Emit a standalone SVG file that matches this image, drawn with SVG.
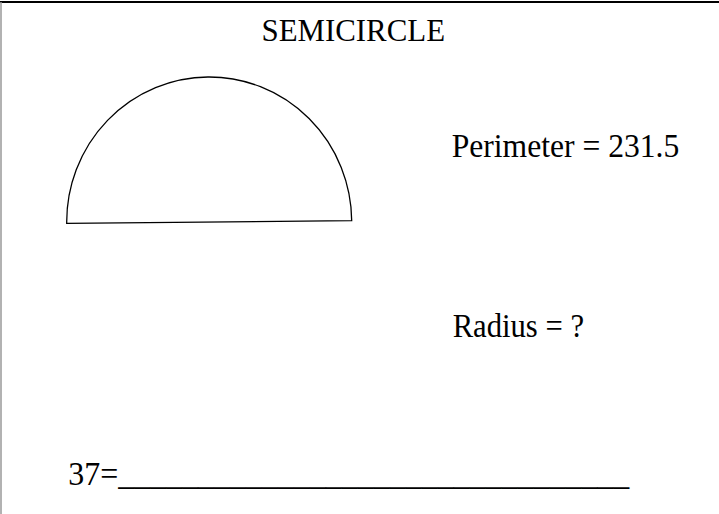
<svg xmlns="http://www.w3.org/2000/svg" width="719" height="514" viewBox="0 0 719 514">
  <style>
    text { font-family: "Liberation Serif", "Times New Roman", serif; fill: #000; font-size: 34px; }
    .title { font-size: 31px; }
    .shape { fill: none; stroke: #000; stroke-width: 1.3; }
  </style>
  <rect width="719" height="514" fill="#fff"/>
  <g id="frame">
    <line x1="0" y1="2" x2="719" y2="2" stroke="#000" stroke-width="2"/>
    <line x1="1" y1="2" x2="1" y2="514" stroke="#999" stroke-width="1.5"/>
  </g>
  <g id="title"><text class="title" x="261.5" y="41" textLength="183.5" lengthAdjust="spacingAndGlyphs">SEMICIRCLE</text></g>
  <g id="semicircle">
    <path class="shape" d="M66.7,223.3 A142.5,145 0 0 1 351.7,220.7 Z"/>
  </g>
  <g id="perimeter"><text x="451.7" y="157" textLength="227.6" lengthAdjust="spacingAndGlyphs">Perimeter = 231.5</text></g>
  <g id="radius"><text x="452.7" y="337" textLength="131.3" lengthAdjust="spacingAndGlyphs">Radius = ?</text></g>
  <g id="answer"><text x="68.3" y="485" textLength="561" lengthAdjust="spacingAndGlyphs">37=________________________________</text></g>
</svg>
